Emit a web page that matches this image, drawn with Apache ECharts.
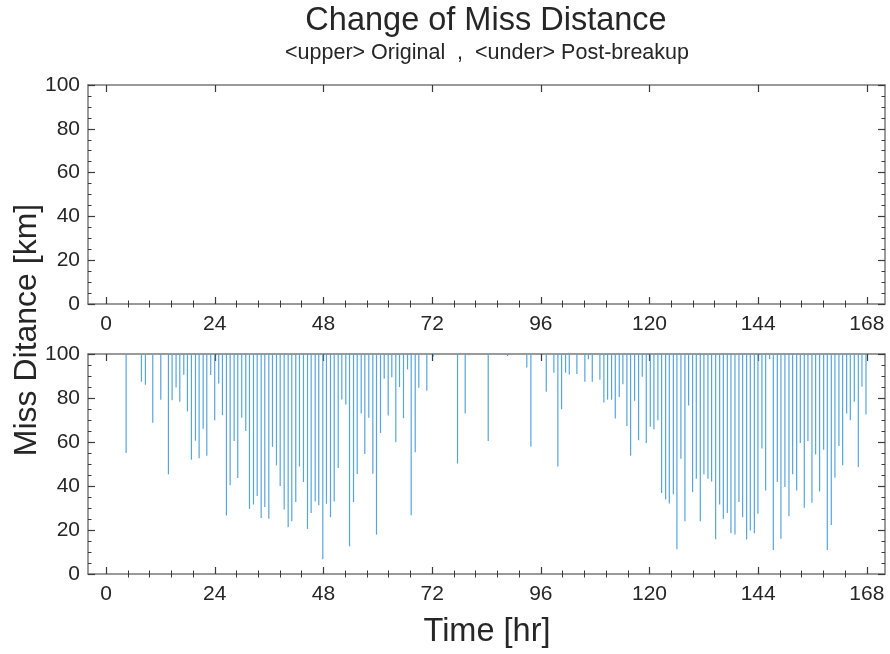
<!DOCTYPE html>
<html><head><meta charset="utf-8">
<script src="https://cdn.jsdelivr.net/npm/echarts@6/dist/echarts.min.js"></script>
<style>html,body{margin:0;padding:0;background:#fff}#c{width:890px;height:654px}</style>
</head><body><div id="c"></div>
<script>
const titleText = 'Change of Miss Distance';
const subtitleText = '<upper> Original  ,  <under> Post-breakup';
const yName = 'Miss Ditance [km]';
const xName = 'Time [hr]';
const xTicks = [0, 24, 48, 72, 96, 120, 144, 168];
const yTicks = [0, 20, 40, 60, 80, 100];

// Upper panel (original): no conjunctions below 100 km
const originalTimes = [];
const originalValues = [];

// Lower panel (post-breakup)
const postTimes = [
  4.42, 7.80, 8.68, 10.30, 12.07, 13.76, 14.57, 15.45, 16.27, 17.15, 17.96, 18.84, 19.73, 20.54, 21.43, 22.23, 23.10,
  23.98, 24.87, 25.69, 26.57, 27.39, 28.27, 29.07, 29.95, 30.84, 31.66, 32.54, 33.36, 34.24, 35.04, 35.93, 36.74,
  37.62, 38.44, 39.32, 40.20, 41.00, 41.88, 42.70, 43.58, 44.47, 45.28, 46.17, 46.96, 47.85,
  48.66, 49.55, 50.37, 51.25, 52.05, 52.93, 53.75, 54.63, 55.45, 56.33, 57.13, 58.01, 58.90, 59.71, 60.59, 61.41,
  62.29, 63.09, 63.97, 64.79, 65.67, 66.56, 67.37, 68.26, 69.05, 70.82,
  72.30, 77.60, 79.30, 80.10, 84.38, 88.65, 92.90, 93.80,
  97.20, 98.88, 99.76, 100.58, 101.46, 102.28, 103.96, 105.72, 106.50, 107.36, 109.04, 109.92, 110.74, 111.62,
  112.44, 113.32, 114.12, 115.00, 115.82, 116.70, 117.58, 118.40, 119.28, 120.17, 120.97,
  121.85, 122.67, 123.55, 124.37, 125.26, 126.05, 126.93, 127.82, 128.63, 129.51, 130.33, 131.21, 132.01, 132.90,
  133.71, 134.60, 135.48, 136.30, 137.18, 137.98, 138.87, 139.75, 140.56, 141.44, 142.26, 143.15, 143.94, 144.82,
  145.64, 146.52, 147.34, 148.22, 149.02, 149.90, 150.79, 151.60, 152.49, 153.30, 154.18, 154.98, 155.87, 156.68,
  157.56, 158.45, 159.26, 160.14, 160.94, 161.83, 162.64, 163.53, 164.34, 165.22, 166.11, 166.91, 167.80
];
const postValues = [
  55.0, 87.4, 86.0, 68.7, 79.2, 45.3, 79.0, 84.8, 78.3, 90.6, 73.9, 52.0, 60.6, 52.6, 66.0, 53.8, 90.4,
  69.9, 86.6, 72.2, 26.6, 40.3, 60.5, 43.6, 71.0, 65.0, 29.6, 31.6, 35.4, 25.5, 30.4, 25.1, 57.8,
  49.4, 40.0, 29.3, 21.3, 24.0, 32.7, 48.9, 41.8, 20.5, 27.7, 33.0, 31.2, 6.7,
  31.9, 25.8, 33.0, 48.2, 79.3, 77.1, 12.6, 32.7, 45.4, 72.9, 54.6, 71.0, 45.6, 17.9, 64.1, 88.8,
  72.0, 89.4, 59.9, 85.0, 70.8, 93.0, 26.7, 55.3, 84.7, 83.3,
  98.8, 50.2, 72.9, 99.4, 60.5, 99.1, 93.9, 57.8,
  82.8, 91.5, 48.9, 74.9, 91.5, 90.7, 90.9, 87.4, 97.6, 87.4, 88.3, 78.0, 79.3, 79.2,
  70.7, 80.5, 86.3, 67.3, 53.8, 78.7, 60.8, 89.7, 59.6, 66.9, 65.8,
  69.9, 36.8, 33.9, 32.1, 36.2, 11.2, 52.4, 24.0, 76.6, 37.2, 43.3, 24.0, 45.3, 43.3,
  42.1, 15.8, 31.6, 25.1, 27.7, 18.5, 17.9, 32.7, 25.8, 15.7, 19.8, 18.5, 27.4, 57.0,
  38.0, 97.6, 10.9, 41.8, 16.0, 39.5, 26.3, 45.3, 38.0, 59.6, 30.1, 60.5, 32.4, 54.3,
  37.5, 56.5, 10.9, 22.3, 43.8, 58.2, 49.4, 72.9, 69.9, 78.3, 48.6, 85.1, 72.5
];

const FONT = '"Liberation Sans", Arial, Helvetica, sans-serif';
const TEXT = '#262626';
const FRAME = '#7a7a7a';
const TICK = '#3a3a3a';
const STEM = '#56a6dd';
const X_MIN = -4, X_MAX = 172, Y_MIN = 0, Y_MAX = 100;

// minor x ticks: each major interval split into 5
const xMinor = [];
for (let i = 0; i < xTicks.length - 1; i++) {
  const step = (xTicks[i + 1] - xTicks[i]) / 5;
  for (let k = 1; k < 5; k++) xMinor.push(+(xTicks[i] + k * step).toFixed(3));
}

function xAxesFor(gridIndex) {
  const base = { gridIndex, type: 'value', min: X_MIN, max: X_MAX, splitLine: { show: false }, minorTick: { show: false } };
  const line = { show: true, onZero: false, lineStyle: { color: FRAME, width: 1.5 } };
  return [
    Object.assign({}, base, {
      position: 'bottom', axisLine: line,
      axisTick: { show: true, inside: true, length: 7, customValues: xTicks, lineStyle: { color: TICK, width: 1.2 } },
      axisLabel: { show: true, customValues: xTicks, margin: 10, fontSize: 21, color: TEXT, fontFamily: FONT }
    }),
    Object.assign({}, base, {
      position: 'bottom', axisLine: { show: false },
      axisTick: { show: true, inside: true, length: 3.5, customValues: xMinor, lineStyle: { color: TICK, width: 1 } },
      axisLabel: { show: false }
    }),
    Object.assign({}, base, {
      position: 'top', axisLine: line,
      axisTick: { show: true, inside: true, length: 7, customValues: xTicks, lineStyle: { color: TICK, width: 1.2 } },
      axisLabel: { show: false }
    }),
    Object.assign({}, base, {
      position: 'top', axisLine: { show: false },
      axisTick: { show: true, inside: true, length: 3.5, customValues: xMinor, lineStyle: { color: TICK, width: 1 } },
      axisLabel: { show: false }
    })
  ];
}
function yAxesFor(gridIndex) {
  const base = { gridIndex, type: 'value', min: Y_MIN, max: Y_MAX, interval: yTicks[1] - yTicks[0], splitLine: { show: false } };
  const line = { show: true, onZero: false, lineStyle: { color: FRAME, width: 1.5 } };
  return [
    Object.assign({}, base, {
      position: 'left', axisLine: line,
      axisTick: { show: true, inside: true, length: 7, lineStyle: { color: TICK, width: 1.2 } },
      minorTick: { show: true, splitNumber: 4, length: 3.5, lineStyle: { color: TICK, width: 1 } },
      axisLabel: { show: true, margin: 8, fontSize: 21, color: TEXT, fontFamily: FONT }
    }),
    Object.assign({}, base, {
      position: 'right', axisLine: line,
      axisTick: { show: true, inside: true, length: 7, lineStyle: { color: TICK, width: 1.2 } },
      minorTick: { show: true, splitNumber: 4, length: 3.5, lineStyle: { color: TICK, width: 1 } },
      axisLabel: { show: false }
    })
  ];
}

function stemItem(params, api) {
  const t = api.value(0), v = api.value(1);
  const p0 = api.coord([t, Y_MAX]);
  const p1 = api.coord([t, v]);
  return {
    type: 'line',
    shape: { x1: p0[0], y1: p0[1], x2: p1[0], y2: p1[1] },
    style: { stroke: STEM, lineWidth: 1.2 }
  };
}

const chart = echarts.init(document.getElementById('c'), null, { renderer: 'canvas' });
chart.setOption({
  animation: false,
  backgroundColor: '#ffffff',
  grid: [
    { left: 88, top: 85, width: 797, height: 219, containLabel: false },
    { left: 88, top: 354, width: 797, height: 220, containLabel: false }
  ],
  xAxis: xAxesFor(0).concat(xAxesFor(1)),
  yAxis: yAxesFor(0).concat(yAxesFor(1)),
  graphic: [
    { type: 'text', x: 486, y: 21, style: { text: titleText, font: '32.5px ' + FONT, fill: TEXT, textAlign: 'center', textVerticalAlign: 'middle' } },
    { type: 'text', x: 487, y: 53, style: { text: subtitleText, font: '21.5px ' + FONT, fill: TEXT, textAlign: 'center', textVerticalAlign: 'middle' } },
    { type: 'text', x: 27, y: 330, rotation: Math.PI / 2, style: { text: yName, font: '32px ' + FONT, fill: TEXT, textAlign: 'center', textVerticalAlign: 'middle' } },
    { type: 'text', x: 487, y: 632, style: { text: xName, font: '32.5px ' + FONT, fill: TEXT, textAlign: 'center', textVerticalAlign: 'middle' } }
  ],
  series: [
    {
      name: 'Original', type: 'custom', xAxisIndex: 0, yAxisIndex: 0, clip: true,
      renderItem: stemItem,
      data: originalTimes.map((t, i) => [t, originalValues[i]])
    },
    {
      name: 'Post-breakup', type: 'custom', xAxisIndex: 4, yAxisIndex: 2, clip: true,
      renderItem: stemItem,
      data: postTimes.map((t, i) => [t, postValues[i]])
    }
  ]
});
</script>
</body></html>
